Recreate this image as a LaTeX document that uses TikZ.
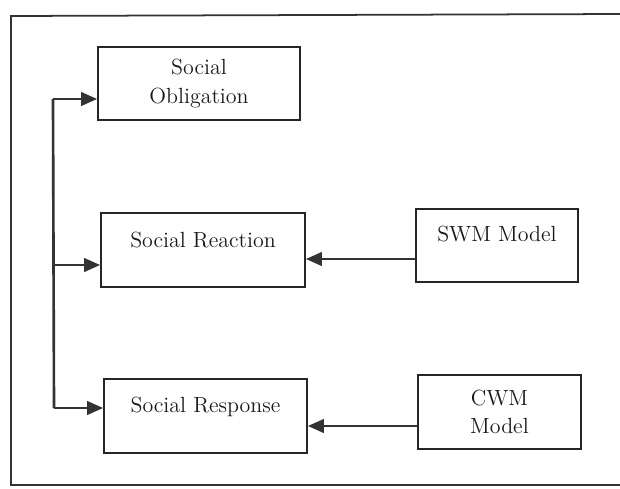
\documentclass[tikz,border=0pt]{standalone}
\usetikzlibrary{arrows.meta}
\newcommand{\pxu}{0.02cm}
\tikzset{
  frame/.style={draw=black!80, line width=1pt},
  boxtext/.style={font=\fontsize{12.5}{16}\selectfont, text=black!90, align=center},
  block/.style={draw=black!85, line width=1pt, minimum height=74*\pxu, inner sep=0pt, boxtext},
  link/.style={draw=black!80, line width=1.5pt},
  arrow/.style={link, -{Triangle[length=0.32cm, width=0.27cm]}}
}
\begin{document}
\begin{tikzpicture}[x=\pxu, y=-\pxu]
  \useasboundingbox (0,0) rectangle (620,488);
  % outer frame
  \draw[frame] (620,14) -- (11,16) -- (11,485) -- (620,485);

  \node[block, minimum width=202*\pxu, minimum height=73*\pxu] (oblig) at (199,83.5) {Social\\Obligation};
  \node[block, minimum width=204*\pxu, label={[boxtext, yshift=10*\pxu]center:Social Reaction}] (react) at (203,250) {};
  \node[block, minimum width=203*\pxu, label={[boxtext, yshift=9*\pxu]center:Social Response}] (resp) at (205.5,416) {};
  \node[block, minimum width=162*\pxu, minimum height=73*\pxu, label={[boxtext, yshift=11.5*\pxu]center:SWM Model}] (swm) at (497,245.5) {};
  \node[block, minimum width=163*\pxu] (cwm) at (499.5,412) {CWM\\Model};

  % feedback trunk on the left
  \coordinate (trunktop) at (53,99);
  \coordinate (trunkmid) at (53.5,265);
  \coordinate (trunkbot) at (54,408);
  \draw[link] (trunktop) -- (trunkbot);
  \draw[arrow] (trunktop) -- (trunktop -| oblig.west);
  \draw[arrow] (trunkmid) -- (trunkmid -| react.west);
  \draw[arrow] (trunkbot) -- (trunkbot -| resp.west);

  % models into the social boxes
  \coordinate (swmout) at ([yshift=-13.5*\pxu]swm.west);
  \coordinate (cwmout) at ([yshift=-14*\pxu]cwm.west);
  \draw[arrow] (swmout) -- (swmout -| react.east);
  \draw[arrow] (cwmout) -- (cwmout -| resp.east);
\end{tikzpicture}
\end{document}
